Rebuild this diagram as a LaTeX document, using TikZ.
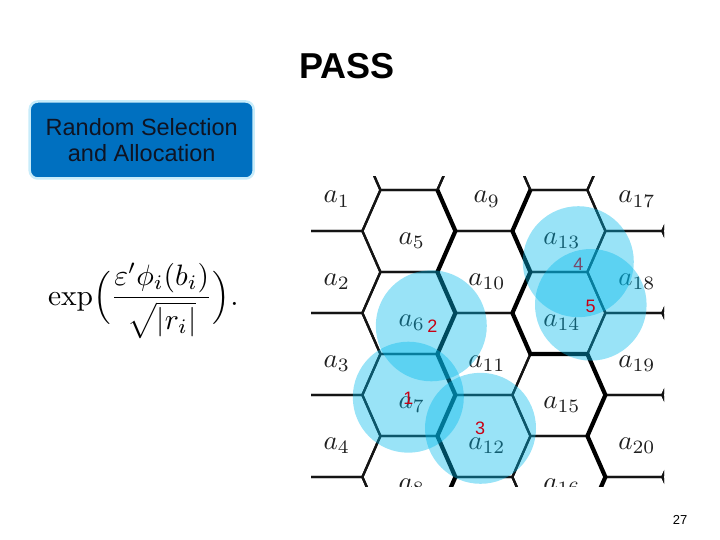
\documentclass[tikz,border=0pt]{standalone}
\usepackage[no-math]{fontspec}
\setmainfont{Liberation Sans}
\definecolor{boxblue}{RGB}{0,112,192}
\definecolor{boxedge}{RGB}{200,236,250}
\definecolor{boxtext}{RGB}{15,20,35}
\definecolor{circcol}{RGB}{0,185,235}
\definecolor{numred}{RGB}{200,0,20}
\begin{document}
\begin{tikzpicture}[x=1pt,y=-1pt,
  hexline/.style={line width=2.3pt, line join=round, black!92},
  thickline/.style={line width=4.2pt, line join=round, black},
  celllabel/.style={anchor=base, inner sep=0pt, text=black!88, font=\normalsize, scale=2.7},
  zone/.style={fill=circcol, fill opacity=0.4},
  zonenum/.style={inner sep=0pt, text=numred, font=\fontsize{18}{18}\selectfont},
  bluebox/.style={draw=boxedge, line width=2.5pt, fill=boxblue, rounded corners=8pt,
    minimum width=224pt, minimum height=77pt, align=center, text=boxtext,
    font=\fontsize{23.5}{26}\selectfont}]
\useasboundingbox (0,0) rectangle (720,540);

% title
\node[anchor=base, inner sep=0pt, font=\fontsize{36}{36}\selectfont\bfseries] (title) at (346.7,78.3) {PASS};

% box
\node[bluebox] (rsa) at (141.7,140) {Random Selection\\and Allocation};

% formula
\node[anchor=base west, inner sep=0pt, font=\normalsize, scale=2.95] (formula) at (47.5,305)
  {$\exp\!\Big(\displaystyle\frac{\varepsilon'\phi_i(b_i)}{\sqrt{|r_i|}}\Big).$};

% hex grid
\begin{scope}
  \clip (311,177) rectangle (664,486);
  \foreach \c in {0,...,5}{
    \pgfmathsetmacro{\cx}{333.9+75*\c}
    \pgfmathsetmacro{\oy}{ifthenelse(mod(\c,2)==0,190,231)}
    \foreach \k in {-1,...,4}{
      \pgfmathsetmacro{\cy}{\oy+82*\k}
      \draw[hexline] (\cx+46.5,\cy) -- ++(-18,41) -- ++(-57,0) -- ++(-18,-41) -- ++(18,-41) -- ++(57,0) -- cycle;
    }
  }
  \draw[thickline] (437.4,190) -- (455.4,231) -- (437.4,272) -- (455.4,313) -- (437.4,354)
    -- (455.4,395) -- (437.4,436) -- (455.4,477) -- (437.4,518);
  \draw[thickline] (530.4,190) -- (512.4,231) -- (530.4,272) -- (512.4,313) -- (530.4,354)
    -- (587.4,354) -- (605.4,395) -- (587.4,436) -- (605.4,477) -- (587.4,518);
  \foreach \n/\c/\b in {1/0/190, 2/0/272, 3/0/354, 4/0/436, 5/1/231, 6/1/313, 7/1/395, 8/1/477,
     9/2/190, 10/2/272, 11/2/354, 12/2/436, 13/3/231, 14/3/313, 15/3/395, 16/3/477,
     17/4/190, 18/4/272, 19/4/354, 20/4/436}{
    \node[celllabel] (a\n) at ({336.9+75*\c},{\b+13}) {$a_{\n}$};
  }
\end{scope}

% zones
\fill[zone] (408.3,397.2) circle[radius=55.5pt];
\node[zonenum] (n1) at (408.3,398.3) {1};
\fill[zone] (431.3,325.8) circle[radius=55.5pt];
\node[zonenum] (n2) at (432.3,326) {2};
\fill[zone] (480.5,428.3) circle[radius=55.5pt];
\node[zonenum] (n3) at (480,428.3) {3};
\fill[zone] (578.3,261.7) circle[radius=55.5pt];
\node[zonenum] (n4) at (578.3,264) {4};
\fill[zone] (590.8,304.8) circle[radius=55.8pt];
\node[zonenum] (n5) at (590.7,306) {5};

% page number
\node[anchor=base, inner sep=0pt, font=\fontsize{13}{13}\selectfont] (pg) at (680,524.5) {27};
\end{tikzpicture}
\end{document}
